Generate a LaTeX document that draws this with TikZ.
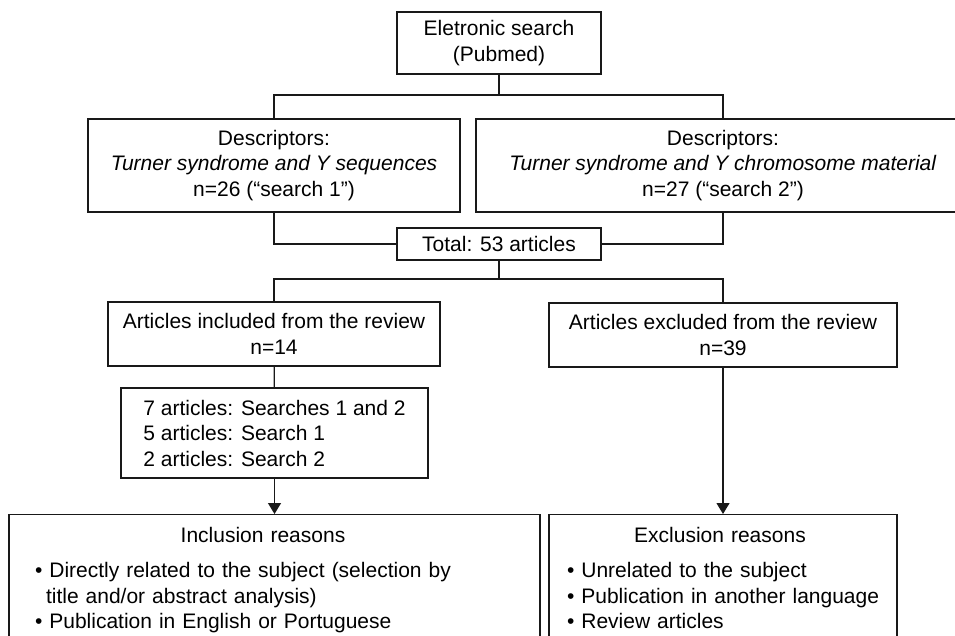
\documentclass[tikz,border=0pt]{standalone}
\usepackage{fontspec}
\setmainfont{Liberation Sans}
\usetikzlibrary{arrows.meta}
\begin{document}
\begin{tikzpicture}[x=1pt,y=-1pt,
  box/.style={draw=black!90,line width=1.2pt,inner sep=0pt,align=center,font=\fontsize{21}{25.5}\selectfont},
  reasons/.style={draw=black!90,line width=1.2pt,anchor=north,inner ysep=13pt,font=\fontsize{21}{25.5}\selectfont},
  link/.style={draw=black!90,line width=1.2pt},
  tip/.style={link,-{Triangle[width=13pt,length=11pt]}}]
\useasboundingbox (0,0) rectangle (955,635);
\clip (0,0) rectangle (955,635);
\node[box,minimum width=204pt,minimum height=62pt] (search) at (499,43) {Eletronic search\\(Pubmed)};
\node[box,minimum width=372pt,minimum height=93pt] (desc1) at (274,165.5) {Descriptors:\\\textit{Turner syndrome and Y sequences}\\n=26 (“search 1”)};
\node[box,minimum width=494pt,minimum height=93pt] (desc2) at (723,165.5) {Descriptors:\\\textit{Turner syndrome and Y chromosome material}\\n=27 (“search 2”)};
\node[box,minimum width=204pt,minimum height=32pt] (total) at (499,244) {Total: 53 articles};
\node[box,minimum width=332pt,minimum height=64pt] (incl) at (274,334) {Articles included from the review\\n=14};
\node[box,minimum width=348pt,minimum height=64pt] (excl) at (723,335) {Articles excluded from the review\\n=39};
\node[box,align=left,minimum width=307pt,minimum height=90pt] (list) at (274.5,433) {7 articles: Searches 1 and 2\\5 articles: Search 1\\2 articles: Search 2};
\node[reasons,text width=479pt,inner xsep=26pt] (inclR) at (274.5,514) {{\centering\hspace*{-23pt}Inclusion reasons\par}\vspace{9.5pt}
  \noindent\mbox{\textbullet\ Directly related to the subject (selection by}\\
  \mbox{\hspace*{11pt}title and/or abstract analysis)}\\
  \mbox{\textbullet\ Publication in English or Portuguese}};
\node[reasons,text width=312pt,inner xsep=18pt] (exclR) at (723,514) {{\centering\hspace*{-6pt}Exclusion reasons\par}\vspace{9.5pt}
  \noindent\mbox{\textbullet\ Unrelated to the subject}\\
  \mbox{\textbullet\ Publication in another language}\\
  \mbox{\textbullet\ Review articles}};
\coordinate (split1) at (499,95);
\coordinate (split2) at (499,279);
\draw[link] (search) -- (split1);
\draw[link] (desc1.north) |- (split1) -| (desc2.north);
\draw[link] (desc1.south) |- (total.west);
\draw[link] (desc2.south) |- (total.east);
\draw[link] (total) -- (split2);
\draw[link] (incl.north) |- (split2) -| (excl.north);
\draw[link] (incl) -- (list);
\draw[tip] (list.south) -- (list.south |- inclR.north);
\draw[tip] (excl.south) -- (excl.south |- exclR.north);
\end{tikzpicture}
\end{document}
